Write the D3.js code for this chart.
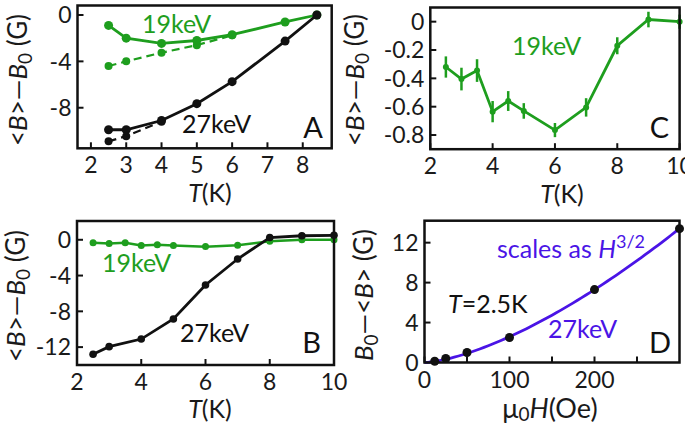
<!DOCTYPE html>
<html><head><meta charset="utf-8">
<script src="https://cdn.jsdelivr.net/npm/d3@7"></script>
<style>
html,body{margin:0;padding:0;background:#fff;}
svg text{font-family:Lato,"Open Sans",sans-serif;}
</style></head>
<body>
<svg id="chart" width="685" height="432"></svg>
<script>
// ---------- DATA ----------
// Panel A
const tempsA = [2.5, 3, 4, 5, 6, 7.5, 8.4];
const a19Solid = [-0.9, -2.0, -2.45, -2.2, -1.7, -0.6, 0];
const tempsA19Dashed = [2.5, 3, 4, 5, 6];
const a19Dashed = [-4.4, -4.0, -3.25, -2.6, -1.75];
const a27Solid = [-9.9, -9.9, -9.1, -7.65, -5.75, -2.25, 0];
const tempsA27Dashed = [2.5, 3, 4];
const a27Dashed = [-10.9, -10.45, -9.2];
const xTicksA = [2, 3, 4, 5, 6, 7, 8];
const yTicksA = [0, -4, -8];
// Panel C (19 keV, with error bars) – also the 19 keV series in panel B
const tempsC = [2.5, 3, 3.5, 4, 4.5, 5, 6, 7, 8, 9, 10];
const c19 = [-0.32, -0.405, -0.345, -0.635, -0.56, -0.63, -0.765, -0.605, -0.17, 0.015, 0];
const c19Err = [0.075, 0.08, 0.08, 0.075, 0.07, 0.055, 0.05, 0.065, 0.06, 0.055, 0.05];
const xTicksC = [2, 4, 6, 8, 10];
const yTicksC = [0, -0.2, -0.4, -0.6, -0.8];
// Panel B
const tempsB27 = [2.5, 3, 4, 5, 6, 7, 8, 9, 10];
const b27 = [-12.8, -11.95, -11.1, -8.85, -5.05, -2.15, 0.25, 0.45, 0.5];
const xTicksB = [2, 4, 6, 8, 10];
const yTicksB = [0, -4, -8, -12];
// Panel D
const fieldD = [12, 25, 50, 100, 200, 300];
const dD = [0.12, 0.4, 1.0, 2.5, 7.3, 13.4];
const fitCoefD = 0.00258;   // B0-<B> = c * H^(3/2)
const fitExpD = 1.5;
const xTicksD = [0, 50, 100, 150, 200, 250];
const xLabelsD = [0, 100, 200];
const yTicksD = [0, 4, 8, 12];

// ---------- STYLE ----------
const GREEN = "#1e9e1e", BLACK = "#111", BLUE = "#4a14e6", TXT = "#1a1a1a";
const svg = d3.select("#chart");

function panel(opt){
  const g = svg.append("g");
  const x = opt.x, y = opt.y;
  const [X0, X1] = x.range(), [Y0, Y1] = y.range();
  g.selectAll(".xt").data(opt.xTicks).join("line")
    .attr("x1", d=>x(d)).attr("x2", d=>x(d))
    .attr("y1", Y1).attr("y2", Y1-6).attr("stroke", BLACK).attr("stroke-width", 2);
  g.selectAll(".yt").data(opt.yTicks).join("line")
    .attr("x1", X0).attr("x2", X0+6)
    .attr("y1", d=>y(d)).attr("y2", d=>y(d)).attr("stroke", BLACK).attr("stroke-width", 2);
  g.selectAll(".xl").data(opt.xLabels || opt.xTicks).join("text")
    .attr("x", d=>x(d)).attr("y", Y1+25).attr("text-anchor","middle")
    .attr("font-size", 23).attr("fill", TXT).text(d=>String(d));
  g.selectAll(".yl").data(opt.yLabels || opt.yTicks).join("text")
    .attr("x", X0-6).attr("y", d=>y(d)).attr("dy","0.36em").attr("text-anchor","end")
    .attr("font-size", 23).attr("fill", TXT).text(d=>opt.fmtY?opt.fmtY(d):String(d));
  const body = g.append("g");
  return {g, body, frame: ()=> g.append("rect").attr("x",X0).attr("y",Y0)
      .attr("width",X1-X0).attr("height",Y1-Y0).attr("fill","none")
      .attr("stroke",BLACK).attr("stroke-width",2.5)};
}

function series(g, x, y, xs, ys, color, r, dashed, lw){
  const pts = xs.map((t,i)=>[t, ys[i]]);
  const line = d3.line().x(d=>x(d[0])).y(d=>y(d[1]));
  g.append("path").datum(pts).attr("d", line).attr("fill","none")
    .attr("stroke", color).attr("stroke-width", lw||2.5)
    .attr("stroke-dasharray", dashed? "8,5": null);
  g.selectAll(null).data(pts).join("circle")
    .attr("cx", d=>x(d[0])).attr("cy", d=>y(d[1])).attr("r", r).attr("fill", color);
}

function yTitle(cx, cy, parts){
  const t = svg.append("text").attr("transform", `translate(${cx},${cy}) rotate(-90)`)
    .attr("text-anchor","middle").attr("font-size",26).attr("fill",TXT);
  parts.forEach(p=>{
    const s = t.append("tspan").text(p.t);
    if (p.i) s.attr("font-style","italic");
    if (p.sub) s.attr("font-size",19).attr("dy",5);
    if (p.after) s.attr("dy",-5);
  });
}
function xTitleTK(cx, cy){
  const t = svg.append("text").attr("x",cx).attr("y",cy).attr("text-anchor","middle")
    .attr("font-size",25).attr("fill",TXT);
  t.append("tspan").attr("font-style","italic").text("T");
  t.append("tspan").text("(K)");
}
function label(x0, y0, txt, color, size, anchor){
  return svg.append("text").attr("x",x0).attr("y",y0).attr("font-size",size||25)
    .attr("fill",color).attr("text-anchor",anchor||"start").text(txt);
}
const fmtNeg = d => d<0 ? "-"+Math.abs(d) : String(d);

// ---------- PANEL A ----------
{
  const x = d3.scaleLinear().domain([1.62, 8.82]).range([77.5, 331.7]);
  const y = d3.scaleLinear().domain([0.82, -11.5]).range([5.5, 148.3]);
  const p = panel({x, y, xTicks: xTicksA, yTicks: yTicksA, fmtY: fmtNeg});
  series(p.body, x, y, tempsA19Dashed, a19Dashed, GREEN, 4, true, 2.2);
  series(p.body, x, y, tempsA27Dashed, a27Dashed, BLACK, 4, true, 2.2);
  series(p.body, x, y, tempsA, a19Solid, GREEN, 4.5, false, 2.8);
  series(p.body, x, y, tempsA, a27Solid, BLACK, 4.5, false, 2.8);
  p.frame();
  label(142, 33, "19keV", GREEN);
  label(182, 133, "27keV", BLACK);
  label(323, 138, "A", BLACK, 29, "end");
  xTitleTK(210, 202);
  yTitle(27, 80, [{t:"<"},{t:"B",i:1},{t:">—"},{t:"B",i:1},{t:"0",sub:1},{t:" (G)",after:1}]);
}
// ---------- PANEL C ----------
{
  const x = d3.scaleLinear().domain([2, 10]).range([430.3, 679.6]);
  const y = d3.scaleLinear().domain([0.1, -0.9]).range([7.5, 149.2]);
  const p = panel({x, y, xTicks: xTicksC, yTicks: yTicksC, fmtY: d=> d===0?"0":"-"+Math.abs(d).toFixed(1)});
  const pts = tempsC.map((t,i)=>[t, c19[i], c19Err[i]]);
  p.body.selectAll(null).data(pts).join("line")
    .attr("x1",d=>x(d[0])).attr("x2",d=>x(d[0]))
    .attr("y1",d=>y(d[1]+d[2])).attr("y2",d=>y(d[1]-d[2]))
    .attr("stroke",GREEN).attr("stroke-width",2.5);
  series(p.body, x, y, tempsC, c19, GREEN, 3, false, 2.8);
  p.frame();
  label(512, 55, "19keV", GREEN);
  label(669, 138, "C", BLACK, 29, "end");
  xTitleTK(562, 203);
  yTitle(364, 80, [{t:"<"},{t:"B",i:1},{t:">—"},{t:"B",i:1},{t:"0",sub:1},{t:" (G)",after:1}]);
}
// ---------- PANEL B ----------
{
  const x = d3.scaleLinear().domain([2, 10]).range([77, 334]);
  const y = d3.scaleLinear().domain([2.1, -14]).range([221, 365]);
  const p = panel({x, y, xTicks: xTicksB, yTicks: yTicksB, fmtY: fmtNeg});
  series(p.body, x, y, tempsC, c19, GREEN, 3.5, false, 2.5);
  series(p.body, x, y, tempsB27, b27, BLACK, 3.8, false, 2.8);
  p.frame();
  label(102, 272, "19keV", GREEN);
  label(180, 342, "27keV", BLACK);
  label(321, 353, "B", BLACK, 29, "end");
  xTitleTK(210, 418);
  yTitle(25, 296, [{t:"<"},{t:"B",i:1},{t:">—"},{t:"B",i:1},{t:"0",sub:1},{t:" (G)",after:1}]);
}
// ---------- PANEL D ----------
{
  const x = d3.scaleLinear().domain([0, 300]).range([424.5, 679.5]);
  const y = d3.scaleLinear().domain([14.2, 0]).range([220.7, 362.5]);
  const p = panel({x, y, xTicks: xTicksD, xLabels: xLabelsD, yTicks: yTicksD});
  const fitH = d3.range(0, 301, 5);
  p.body.append("path").datum(fitH)
    .attr("d", d3.line().x(h=>x(h)).y(h=>y(fitCoefD*Math.pow(h, fitExpD))))
    .attr("fill","none").attr("stroke",BLUE).attr("stroke-width",2.8);
  p.body.selectAll(null).data(fieldD.map((h,i)=>[h,dD[i]])).join("circle")
    .attr("cx",d=>x(d[0])).attr("cy",d=>y(d[1])).attr("r",4.5).attr("fill",BLACK);
  p.frame();
  const s = label(497, 258, "", BLUE);
  s.append("tspan").text("scales as ");
  s.append("tspan").attr("font-style","italic").text("H");
  s.append("tspan").attr("font-size",18).attr("dy",-10).text("3/2");
  const tl = label(448, 313, "", BLACK);
  tl.append("tspan").attr("font-style","italic").text("T");
  tl.append("tspan").text("=2.5K");
  label(548, 338, "27keV", BLUE);
  label(671, 353, "D", BLACK, 29, "end");
  const xt = svg.append("text").attr("x",550).attr("y",418).attr("text-anchor","middle")
    .attr("font-size",27).attr("fill",TXT);
  xt.append("tspan").text("μ");
  xt.append("tspan").attr("font-size",19).attr("dy",3).text("0");
  xt.append("tspan").attr("dy",-3).attr("font-style","italic").text("H");
  xt.append("tspan").text("(Oe)");
  yTitle(373, 295, [{t:"B",i:1},{t:"0",sub:1},{t:"—<",after:1},{t:"B",i:1},{t:"> (G)"}]);
}
</script>
</body></html>
